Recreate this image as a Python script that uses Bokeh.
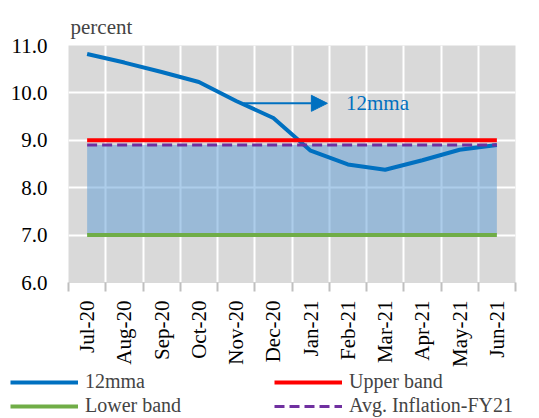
import math
from bokeh.plotting import figure
from bokeh.layouts import column
from bokeh.models import (Range1d, FixedTicker, Legend, LegendItem, Arrow,
                          NormalHead, Label, NumeralTickFormatter)
from bokeh.embed import file_html
from bokeh.resources import INLINE

months = ["Jul-20", "Aug-20", "Sep-20", "Oct-20", "Nov-20", "Dec-20",
          "Jan-21", "Feb-21", "Mar-21", "Apr-21", "May-21", "Jun-21"]
mma12 = [10.82, 10.64, 10.44, 10.23, 9.83, 9.47, 8.78, 8.49, 8.38, 8.58, 8.80, 8.90]
upper_band = [9.0, 9.0, 9.0, 9.0, 9.0, 9.0, 9.0, 9.0, 9.0, 9.0, 9.0, 9.0]
lower_band = [7.0, 7.0, 7.0, 7.0, 7.0, 7.0, 7.0, 7.0, 7.0, 7.0, 7.0, 7.0]
avg_fy21 = [8.9, 8.9, 8.9, 8.9, 8.9, 8.9, 8.9, 8.9, 8.9, 8.9, 8.9, 8.9]
y_ticks = [6, 7, 8, 9, 10, 11]

FONT = "Liberation Serif"
FS = "21px"
FS_LEG = "20px"

C_MMA = "#0070C0"
C_UP = "#FF0000"
C_LOW = "#70AD47"
C_AVG = "#7030A0"

xs = [i + 0.5 for i in range(len(months))]

p = figure(frame_width=447, frame_height=237,
           x_range=Range1d(0, len(months)), y_range=Range1d(6, 11),
           output_backend="svg", toolbar_location=None,
           min_border_left=68, min_border_right=24, min_border_top=45,
           min_border_bottom=85,
           background_fill_color="#D9D9D9", border_fill_color="white",
           outline_line_color=None)

p.title.text = "percent"
p.title.text_font = FONT
p.title.text_font_size = FS
p.title.text_font_style = "normal"
p.title.align = "left"
p.title.offset = 2
p.title.standoff = 14

# area between lower band and average
p.varea(x=xs, y1=lower_band, y2=avg_fy21, fill_color="#5B9BD5", fill_alpha=0.5)

p.line(xs, mma12, line_color=C_MMA, line_width=4)
p.line(xs, lower_band, line_color=C_LOW, line_width=4)
p.line(xs, upper_band, line_color=C_UP, line_width=4)
p.line(xs, avg_fy21, line_color=C_AVG, line_width=3, line_dash="10 5")

# annotation arrow
p.add_layout(Arrow(end=NormalHead(size=16, fill_color=C_MMA, line_color=C_MMA),
                   x_start=4.7, y_start=9.78, x_end=6.95, y_end=9.78,
                   line_color=C_MMA, line_width=2))
p.add_layout(Label(x=7.45, y=9.78, text="12mma", text_baseline="middle",
                   text_font=FONT, text_font_size=FS, text_color=C_MMA))

# grids
p.xgrid.ticker = FixedTicker(ticks=list(range(len(months) + 1)))
p.ygrid.ticker = FixedTicker(ticks=y_ticks)
for g in (p.xgrid[0], p.ygrid[0]):
    g.grid_line_color = "white"
    g.grid_line_width = 2

# x axis
xa = p.xaxis[0]
xa.ticker = FixedTicker(ticks=xs, minor_ticks=list(range(len(months) + 1)))
xa.major_label_overrides = {x: m for x, m in zip(xs, months)}
xa.major_label_orientation = math.pi / 2
xa.major_tick_line_color = None
xa.major_tick_out = 0
xa.major_tick_in = 0
xa.minor_tick_line_color = "#BFBFBF"
xa.minor_tick_line_width = 2
xa.minor_tick_out = 9
xa.minor_tick_in = 0
xa.axis_line_color = "#D9D9D9"
xa.major_label_standoff = 9
xa.major_label_text_font = FONT
xa.major_label_text_font_size = FS
xa.major_label_text_color = "black"

# y axis
ya = p.yaxis[0]
ya.ticker = FixedTicker(ticks=y_ticks)
ya.formatter = NumeralTickFormatter(format="0.0")
ya.axis_line_color = None
ya.major_tick_line_color = None
ya.minor_tick_line_color = None
ya.major_tick_out = 0
ya.major_tick_in = 0
ya.major_label_standoff = 21
ya.major_label_text_font = FONT
ya.major_label_text_font_size = FS
ya.major_label_text_color = "black"

# legend strip below the chart (its own frame, not aligned with the chart's)
lf = figure(width=539, height=51, x_range=Range1d(0, 1), y_range=Range1d(0, 1),
            output_backend="svg", toolbar_location=None,
            min_border=0, outline_line_color=None,
            background_fill_color="white", border_fill_color="white",
            x_axis_location=None, y_axis_location=None)
lf.frame_align = False
lf.grid.visible = False
off = [5, 6]
g_mma = lf.line(x=off, y=off, line_color=C_MMA, line_width=4)
g_up = lf.line(x=off, y=off, line_color=C_UP, line_width=4)
g_low = lf.line(x=off, y=off, line_color=C_LOW, line_width=4)
g_avg = lf.line(x=off, y=off, line_color=C_AVG, line_width=3, line_dash="10 5")

legend = Legend(items=[
    LegendItem(label="12mma", renderers=[g_mma]),
    LegendItem(label="Upper band", renderers=[g_up]),
    LegendItem(label="Lower band", renderers=[g_low]),
    LegendItem(label="Avg. Inflation-FY21", renderers=[g_avg]),
], ncols=2, location=(10, 3), orientation="horizontal",
    label_text_font=FONT, label_text_font_size=FS_LEG,
    glyph_width=68, glyph_height=20, label_standoff=7,
    label_width=188, label_height=22, spacing=1, padding=0, margin=0,
    border_line_color=None, background_fill_alpha=0)
lf.add_layout(legend, "center")

layout = column(p, lf, spacing=0)
open("out.html", "w").write(file_html(layout, INLINE))
